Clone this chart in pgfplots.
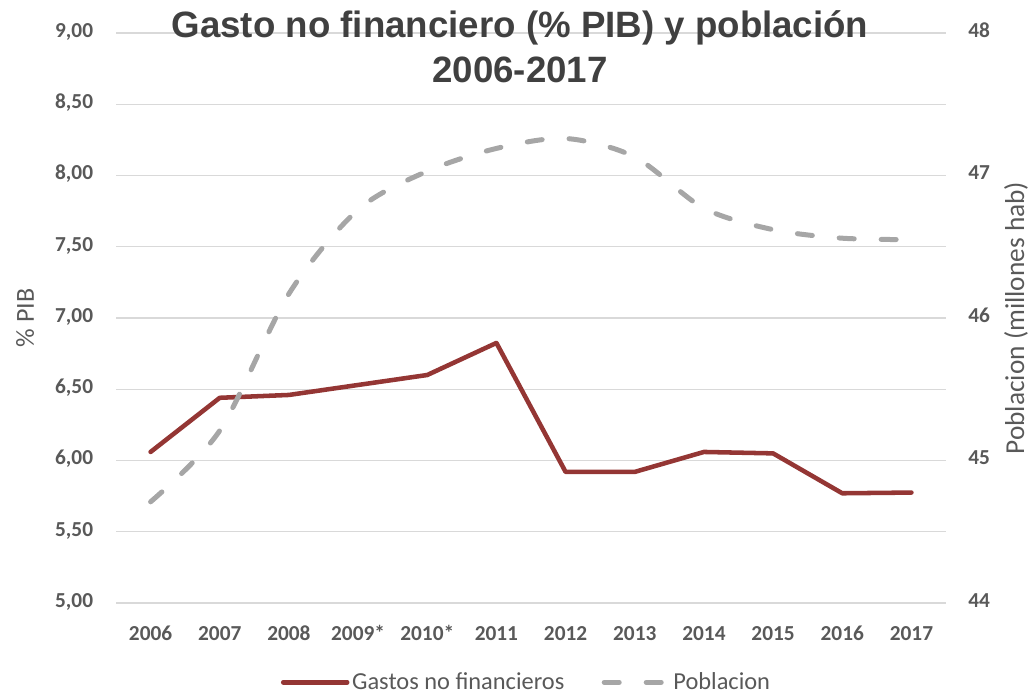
\documentclass[border=0pt]{standalone}
\usepackage{fontspec}
\setmainfont{Carlito}
\newfontfamily\titlefont{Liberation Sans}
\usepackage{pgfplots}
\pgfplotsset{compat=1.18}
\definecolor{redline}{HTML}{943634}
\definecolor{grayline}{HTML}{A6A6A6}
\definecolor{gridc}{HTML}{D9D9D9}
\definecolor{txt}{HTML}{595959}
\definecolor{ttl}{HTML}{404040}

\pgfplotstableread{
x gasto pob
0 6.06 44.71
1 6.44 45.21
2 6.46 46.17
3 6.53 46.76
4 6.60 47.03
5 6.825 47.19
6 5.92 47.26
7 5.92 47.13
8 6.06 46.77
9 6.05 46.62
10 5.77 46.56
11 5.775 46.55
}\datatable

\begin{document}
\begin{tikzpicture}
\pgfplotsset{
  common/.style={
    scale only axis, width=622.5pt, height=427.5pt,
    xmin=-0.5, xmax=11.5,
    axis line style={draw=none},
    major tick length=0pt,
    tick style={draw=none},
    clip=false,
    /pgf/number format/assume math mode=true,
  },
}
\begin{axis}[common,
  ymin=5, ymax=9, ytick={5,5.5,...,9},
  ymajorgrids, grid style={gridc, line width=1.1pt},
  xtick={0,...,11},
  xticklabels={2006,2007,2008,2009*,2010*,2011,2012,2013,2014,2015,2016,2017},
  xticklabel style={font=\bfseries\fontsize{16}{19}\selectfont, text=txt, anchor=base, inner sep=0pt, yshift=-27.75pt},
  yticklabel style={font=\bfseries\fontsize{16}{19}\selectfont, text=txt, anchor=base east, inner sep=0pt, xshift=-17pt, yshift=-0.32em,
    /pgf/number format/fixed, /pgf/number format/fixed zerofill, /pgf/number format/precision=2, /pgf/number format/use comma},
]
\addplot[redline, line width=3.4pt, line join=round, line cap=round] table[x=x, y=gasto] {\datatable};
\end{axis}
\begin{axis}[common,
  ymin=44, ymax=48, ytick={44,...,48},
  axis y line*=right, axis x line=none,
  yticklabel style={font=\bfseries\fontsize{16}{19}\selectfont, text=txt, anchor=base west, inner sep=0pt, xshift=16.5pt, yshift=-0.32em},
  legend style={at={(0.495,-0.139)}, anchor=center, draw=none, fill=none, legend columns=2,
    font=\fontsize{18.3}{22}\selectfont, text=txt,
    /tikz/every even column/.append style={column sep=26pt}},
  legend image code/.code={\draw[#1] (0pt,0pt) -- (48pt,0pt);},
]
\addlegendimage{redline, line width=3.4pt, line cap=round}
\addlegendentry{Gastos no financieros}
\addplot[grayline, line width=3.75pt, line cap=round, dash pattern=on 11.25pt off 20.25pt, smooth, tension=0.5] table[x=x, y=pob] {\datatable};
\addlegendentry{Poblacion}
\end{axis}
\node[font=\titlefont\bfseries\fontsize{27.5}{33}\selectfont, text=ttl, anchor=base] at (303pt,423.75pt) {Gasto no financiero (\% PIB) y población};
\node[font=\titlefont\bfseries\fontsize{27.5}{33}\selectfont, text=ttl, anchor=base] at (303pt,390pt) {2006-2017};
\node[rotate=90, font=\fontsize{19.5}{23}\selectfont, text=txt] at (-68.25pt,213.75pt) {\% PIB};
\node[rotate=90, font=\fontsize{20.5}{24}\selectfont, text=txt] at (675pt,213.75pt) {Poblacion (millones hab)};
\pgfresetboundingbox
\path[use as bounding box] (-87pt,-69.75pt) rectangle (685.5pt,452.25pt);
\end{tikzpicture}
\end{document}
